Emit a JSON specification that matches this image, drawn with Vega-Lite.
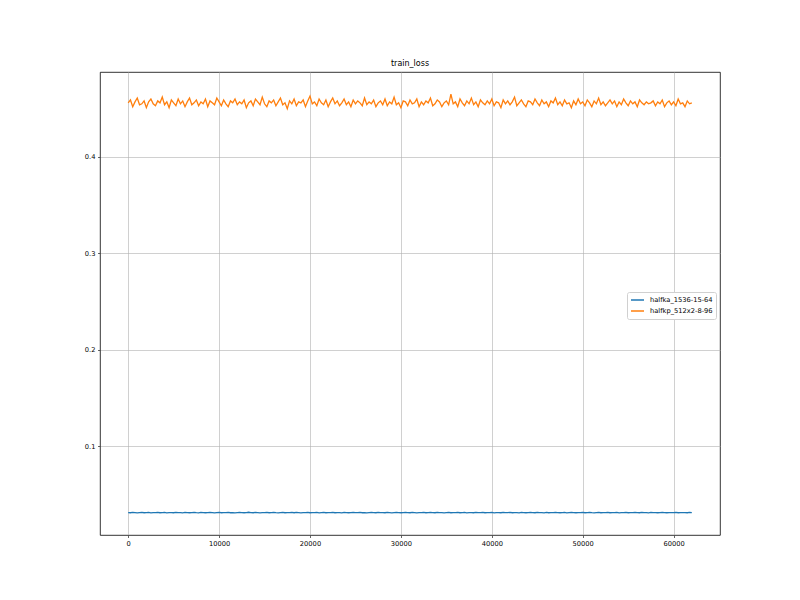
{
"$schema":"https://vega.github.io/schema/vega-lite/v6.json",
"width":620,"height":463,
"autosize":{"type":"none"},
"padding":{"left":100,"top":72,"right":80,"bottom":65},
"background":"white",
"title":{"text":"train_loss","fontSize":8,"font":"DejaVu Sans","fontWeight":"normal","color":"black","offset":4},
"config":{"view":{"stroke":"black","strokeWidth":0.8},"axis":{"grid":true,"gridColor":"#b0b0b0","gridWidth":0.6,"domain":false,"tickColor":"black","tickSize":2.5,"tickWidth":0.6,"labelFont":"DejaVu Sans","labelFontSize":6.7,"labelColor":"black","labelPadding":2.5}},
"data":{"values":[
{"s":0,"ka":0.0310,"kp":0.456},{"s":250,"ka":0.0308,"kp":0.459},{"s":500,"ka":0.0311,"kp":0.452},{"s":750,"ka":0.0309,"kp":0.457},{"s":1000,"ka":0.0307,"kp":0.461},{"s":1250,"ka":0.0310,"kp":0.454},{"s":1500,"ka":0.0312,"kp":0.455},{"s":1750,"ka":0.0308,"kp":0.458},{"s":2000,"ka":0.0309,"kp":0.451},{"s":2250,"ka":0.0311,"kp":0.457},
{"s":2500,"ka":0.0306,"kp":0.460},{"s":2750,"ka":0.0310,"kp":0.455},{"s":3000,"ka":0.0309,"kp":0.453},{"s":3250,"ka":0.0312,"kp":0.458},{"s":3500,"ka":0.0308,"kp":0.456},{"s":3750,"ka":0.0310,"kp":0.462},{"s":4000,"ka":0.0311,"kp":0.454},{"s":4250,"ka":0.0307,"kp":0.457},{"s":4500,"ka":0.0309,"kp":0.451},{"s":4750,"ka":0.0310,"kp":0.459},
{"s":5000,"ka":0.0308,"kp":0.456},{"s":5250,"ka":0.0312,"kp":0.453},{"s":5500,"ka":0.0309,"kp":0.460},{"s":5750,"ka":0.0310,"kp":0.455},{"s":6000,"ka":0.0307,"kp":0.458},{"s":6250,"ka":0.0311,"kp":0.452},{"s":6500,"ka":0.0309,"kp":0.457},{"s":6750,"ka":0.0308,"kp":0.461},{"s":7000,"ka":0.0310,"kp":0.454},{"s":7250,"ka":0.0312,"kp":0.456},
{"s":7500,"ka":0.0309,"kp":0.459},{"s":7750,"ka":0.0307,"kp":0.453},{"s":8000,"ka":0.0311,"kp":0.457},{"s":8250,"ka":0.0310,"kp":0.455},{"s":8500,"ka":0.0308,"kp":0.460},{"s":8750,"ka":0.0309,"kp":0.452},{"s":9000,"ka":0.0311,"kp":0.458},{"s":9250,"ka":0.0310,"kp":0.456},{"s":9500,"ka":0.0306,"kp":0.454},{"s":9750,"ka":0.0309,"kp":0.461},
{"s":10000,"ka":0.0311,"kp":0.457},{"s":10250,"ka":0.0308,"kp":0.453},{"s":10500,"ka":0.0310,"kp":0.459},{"s":10750,"ka":0.0309,"kp":0.455},{"s":11000,"ka":0.0312,"kp":0.452},{"s":11250,"ka":0.0308,"kp":0.458},{"s":11500,"ka":0.0310,"kp":0.456},{"s":11750,"ka":0.0307,"kp":0.460},{"s":12000,"ka":0.0309,"kp":0.454},{"s":12250,"ka":0.0311,"kp":0.457},
{"s":12500,"ka":0.0310,"kp":0.455},{"s":12750,"ka":0.0308,"kp":0.459},{"s":13000,"ka":0.0309,"kp":0.451},{"s":13250,"ka":0.0313,"kp":0.456},{"s":13500,"ka":0.0310,"kp":0.458},{"s":13750,"ka":0.0308,"kp":0.453},{"s":14000,"ka":0.0311,"kp":0.460},{"s":14250,"ka":0.0309,"kp":0.457},{"s":14500,"ka":0.0307,"kp":0.454},{"s":14750,"ka":0.0310,"kp":0.462},
{"s":15000,"ka":0.0309,"kp":0.455},{"s":15250,"ka":0.0311,"kp":0.452},{"s":15500,"ka":0.0308,"kp":0.458},{"s":15750,"ka":0.0310,"kp":0.456},{"s":16000,"ka":0.0312,"kp":0.459},{"s":16250,"ka":0.0309,"kp":0.453},{"s":16500,"ka":0.0307,"kp":0.457},{"s":16750,"ka":0.0310,"kp":0.461},{"s":17000,"ka":0.0311,"kp":0.454},{"s":17250,"ka":0.0308,"kp":0.456},
{"s":17500,"ka":0.0309,"kp":0.450},{"s":17750,"ka":0.0310,"kp":0.458},{"s":18000,"ka":0.0312,"kp":0.455},{"s":18250,"ka":0.0308,"kp":0.460},{"s":18500,"ka":0.0311,"kp":0.453},{"s":18750,"ka":0.0309,"kp":0.457},{"s":19000,"ka":0.0307,"kp":0.456},{"s":19250,"ka":0.0310,"kp":0.459},{"s":19500,"ka":0.0309,"kp":0.452},{"s":19750,"ka":0.0311,"kp":0.458},
{"s":20000,"ka":0.0308,"kp":0.463},{"s":20250,"ka":0.0310,"kp":0.455},{"s":20500,"ka":0.0309,"kp":0.457},{"s":20750,"ka":0.0312,"kp":0.453},{"s":21000,"ka":0.0307,"kp":0.460},{"s":21250,"ka":0.0310,"kp":0.456},{"s":21500,"ka":0.0311,"kp":0.454},{"s":21750,"ka":0.0308,"kp":0.459},{"s":22000,"ka":0.0309,"kp":0.452},{"s":22250,"ka":0.0310,"kp":0.457},
{"s":22500,"ka":0.0311,"kp":0.461},{"s":22750,"ka":0.0308,"kp":0.455},{"s":23000,"ka":0.0310,"kp":0.458},{"s":23250,"ka":0.0309,"kp":0.453},{"s":23500,"ka":0.0306,"kp":0.456},{"s":23750,"ka":0.0311,"kp":0.460},{"s":24000,"ka":0.0310,"kp":0.454},{"s":24250,"ka":0.0308,"kp":0.457},{"s":24500,"ka":0.0309,"kp":0.452},{"s":24750,"ka":0.0312,"kp":0.459},
{"s":25000,"ka":0.0310,"kp":0.455},{"s":25250,"ka":0.0309,"kp":0.458},{"s":25500,"ka":0.0311,"kp":0.456},{"s":25750,"ka":0.0308,"kp":0.453},{"s":26000,"ka":0.0310,"kp":0.461},{"s":26250,"ka":0.0307,"kp":0.454},{"s":26500,"ka":0.0309,"kp":0.457},{"s":26750,"ka":0.0311,"kp":0.455},{"s":27000,"ka":0.0310,"kp":0.459},{"s":27250,"ka":0.0308,"kp":0.452},
{"s":27500,"ka":0.0312,"kp":0.456},{"s":27750,"ka":0.0309,"kp":0.458},{"s":28000,"ka":0.0310,"kp":0.454},{"s":28250,"ka":0.0308,"kp":0.460},{"s":28500,"ka":0.0311,"kp":0.453},{"s":28750,"ka":0.0309,"kp":0.457},{"s":29000,"ka":0.0307,"kp":0.455},{"s":29250,"ka":0.0310,"kp":0.462},{"s":29500,"ka":0.0311,"kp":0.454},{"s":29750,"ka":0.0309,"kp":0.456},
{"s":30000,"ka":0.0308,"kp":0.451},{"s":30250,"ka":0.0310,"kp":0.458},{"s":30500,"ka":0.0312,"kp":0.457},{"s":30750,"ka":0.0309,"kp":0.453},{"s":31000,"ka":0.0308,"kp":0.459},{"s":31250,"ka":0.0311,"kp":0.455},{"s":31500,"ka":0.0310,"kp":0.456},{"s":31750,"ka":0.0307,"kp":0.460},{"s":32000,"ka":0.0309,"kp":0.452},{"s":32250,"ka":0.0310,"kp":0.457},
{"s":32500,"ka":0.0311,"kp":0.454},{"s":32750,"ka":0.0308,"kp":0.458},{"s":33000,"ka":0.0309,"kp":0.456},{"s":33250,"ka":0.0312,"kp":0.461},{"s":33500,"ka":0.0310,"kp":0.453},{"s":33750,"ka":0.0308,"kp":0.455},{"s":34000,"ka":0.0311,"kp":0.459},{"s":34250,"ka":0.0309,"kp":0.457},{"s":34500,"ka":0.0310,"kp":0.452},{"s":34750,"ka":0.0307,"kp":0.456},
{"s":35000,"ka":0.0309,"kp":0.458},{"s":35250,"ka":0.0311,"kp":0.454},{"s":35500,"ka":0.0308,"kp":0.465},{"s":35750,"ka":0.0310,"kp":0.455},{"s":36000,"ka":0.0309,"kp":0.457},{"s":36250,"ka":0.0312,"kp":0.452},{"s":36500,"ka":0.0308,"kp":0.460},{"s":36750,"ka":0.0310,"kp":0.456},{"s":37000,"ka":0.0311,"kp":0.453},{"s":37250,"ka":0.0307,"kp":0.458},
{"s":37500,"ka":0.0309,"kp":0.455},{"s":37750,"ka":0.0310,"kp":0.461},{"s":38000,"ka":0.0308,"kp":0.454},{"s":38250,"ka":0.0311,"kp":0.457},{"s":38500,"ka":0.0309,"kp":0.452},{"s":38750,"ka":0.0310,"kp":0.459},{"s":39000,"ka":0.0312,"kp":0.456},{"s":39250,"ka":0.0308,"kp":0.454},{"s":39500,"ka":0.0309,"kp":0.458},{"s":39750,"ka":0.0310,"kp":0.455},
{"s":40000,"ka":0.0311,"kp":0.460},{"s":40250,"ka":0.0307,"kp":0.453},{"s":40500,"ka":0.0310,"kp":0.457},{"s":40750,"ka":0.0309,"kp":0.456},{"s":41000,"ka":0.0308,"kp":0.451},{"s":41250,"ka":0.0311,"kp":0.459},{"s":41500,"ka":0.0310,"kp":0.455},{"s":41750,"ka":0.0309,"kp":0.458},{"s":42000,"ka":0.0312,"kp":0.454},{"s":42250,"ka":0.0308,"kp":0.457},
{"s":42500,"ka":0.0310,"kp":0.462},{"s":42750,"ka":0.0309,"kp":0.453},{"s":43000,"ka":0.0307,"kp":0.456},{"s":43250,"ka":0.0311,"kp":0.459},{"s":43500,"ka":0.0310,"kp":0.455},{"s":43750,"ka":0.0308,"kp":0.452},{"s":44000,"ka":0.0309,"kp":0.458},{"s":44250,"ka":0.0311,"kp":0.457},{"s":44500,"ka":0.0310,"kp":0.454},{"s":44750,"ka":0.0308,"kp":0.460},
{"s":45000,"ka":0.0312,"kp":0.456},{"s":45250,"ka":0.0309,"kp":0.453},{"s":45500,"ka":0.0310,"kp":0.459},{"s":45750,"ka":0.0307,"kp":0.455},{"s":46000,"ka":0.0311,"kp":0.457},{"s":46250,"ka":0.0308,"kp":0.452},{"s":46500,"ka":0.0310,"kp":0.458},{"s":46750,"ka":0.0309,"kp":0.456},{"s":47000,"ka":0.0311,"kp":0.461},{"s":47250,"ka":0.0310,"kp":0.454},
{"s":47500,"ka":0.0308,"kp":0.457},{"s":47750,"ka":0.0309,"kp":0.453},{"s":48000,"ka":0.0312,"kp":0.459},{"s":48250,"ka":0.0307,"kp":0.455},{"s":48500,"ka":0.0310,"kp":0.456},{"s":48750,"ka":0.0311,"kp":0.451},{"s":49000,"ka":0.0309,"kp":0.458},{"s":49250,"ka":0.0308,"kp":0.454},{"s":49500,"ka":0.0310,"kp":0.460},{"s":49750,"ka":0.0309,"kp":0.455},
{"s":50000,"ka":0.0311,"kp":0.457},{"s":50250,"ka":0.0308,"kp":0.453},{"s":50500,"ka":0.0310,"kp":0.459},{"s":50750,"ka":0.0312,"kp":0.456},{"s":51000,"ka":0.0309,"kp":0.452},{"s":51250,"ka":0.0307,"kp":0.458},{"s":51500,"ka":0.0310,"kp":0.455},{"s":51750,"ka":0.0311,"kp":0.461},{"s":52000,"ka":0.0308,"kp":0.454},{"s":52250,"ka":0.0309,"kp":0.457},
{"s":52500,"ka":0.0310,"kp":0.453},{"s":52750,"ka":0.0311,"kp":0.456},{"s":53000,"ka":0.0308,"kp":0.459},{"s":53250,"ka":0.0310,"kp":0.455},{"s":53500,"ka":0.0309,"kp":0.458},{"s":53750,"ka":0.0312,"kp":0.452},{"s":54000,"ka":0.0307,"kp":0.457},{"s":54250,"ka":0.0310,"kp":0.454},{"s":54500,"ka":0.0309,"kp":0.460},{"s":54750,"ka":0.0311,"kp":0.456},
{"s":55000,"ka":0.0308,"kp":0.453},{"s":55250,"ka":0.0310,"kp":0.458},{"s":55500,"ka":0.0309,"kp":0.455},{"s":55750,"ka":0.0311,"kp":0.457},{"s":56000,"ka":0.0310,"kp":0.452},{"s":56250,"ka":0.0308,"kp":0.459},{"s":56500,"ka":0.0312,"kp":0.456},{"s":56750,"ka":0.0309,"kp":0.454},{"s":57000,"ka":0.0310,"kp":0.457},{"s":57250,"ka":0.0307,"kp":0.455},
{"s":57500,"ka":0.0311,"kp":0.456},{"s":57750,"ka":0.0309,"kp":0.458},{"s":58000,"ka":0.0310,"kp":0.453},{"s":58250,"ka":0.0308,"kp":0.457},{"s":58500,"ka":0.0309,"kp":0.455},{"s":58750,"ka":0.0311,"kp":0.459},{"s":59000,"ka":0.0310,"kp":0.452},{"s":59250,"ka":0.0308,"kp":0.456},{"s":59500,"ka":0.0309,"kp":0.458},{"s":59750,"ka":0.0310,"kp":0.454},
{"s":60000,"ka":0.0309,"kp":0.457},{"s":60250,"ka":0.0311,"kp":0.453},{"s":60500,"ka":0.0308,"kp":0.460},{"s":60750,"ka":0.0310,"kp":0.455},{"s":61000,"ka":0.0309,"kp":0.456},{"s":61250,"ka":0.0310,"kp":0.452},{"s":61500,"ka":0.0308,"kp":0.458},{"s":61750,"ka":0.0311,"kp":0.455},{"s":62000,"ka":0.0309,"kp":0.456}
]},
"transform":[{"fold":["ka","kp"],"as":["run","loss"]}],
"mark":{"type":"line","strokeWidth":1.3},
"encoding":{
"x":{"field":"s","type":"quantitative","scale":{"domain":[-3100,65100],"nice":false,"zero":false},"axis":{"values":[0,10000,20000,30000,40000,50000,60000],"format":"d","title":null}},
"y":{"field":"loss","type":"quantitative","scale":{"domain":[0.0077,0.488],"nice":false,"zero":false},"axis":{"values":[0.1,0.2,0.3,0.4],"format":".1f","title":null}},
"color":{"field":"run","type":"nominal","scale":{"domain":["ka","kp"],"range":["#1f77b4","#ff7f0e"]},"legend":{"orient":"none","legendX":527,"legendY":220,"title":null,"labelExpr":"datum.label == 'ka' ? 'halfka_1536-15-64' : 'halfkp_512x2-8-96'","symbolType":"stroke","symbolStrokeWidth":1.3,"symbolSize":169,"clipHeight":10,"fillColor":"white","strokeColor":"#d0d0d0","padding":3,"cornerRadius":2,"labelFontSize":6.7,"labelFont":"DejaVu Sans","labelColor":"black","rowPadding":1,"labelOffset":5}}
}
}
